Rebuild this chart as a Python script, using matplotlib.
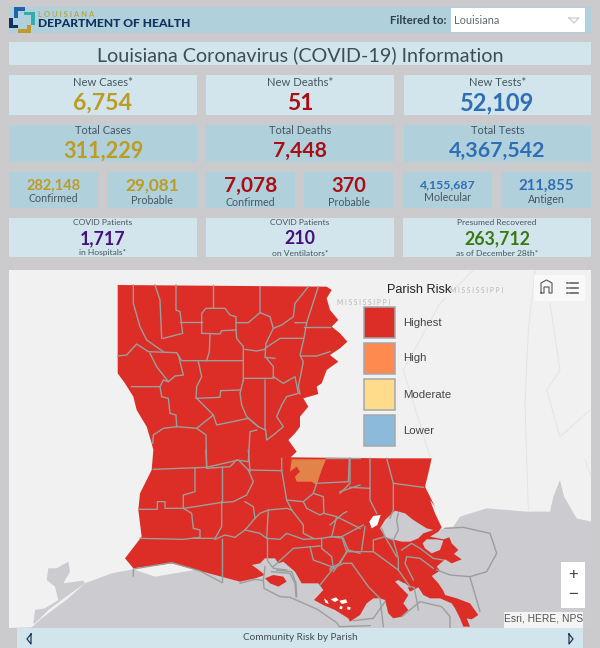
import matplotlib
matplotlib.use("Agg")
import matplotlib.pyplot as plt
from matplotlib.patches import Rectangle, Polygon

plt.rcParams['font.family'] = ['Lato', 'DejaVu Sans']

BG = '#cbcbcd'; LIGHT = '#d2e5ec'; MID = '#b0d0dc'
GOLD = '#bd9c24'; RED = '#ab0d14'; BLUE = '#2f6eb5'; PURPLE = '#44107e'; GREEN = '#3a7a12'
INK = '#47565f'
LAND = '#f1f1f2'; WATER = '#cbcbd0'; PARISH = '#dc2d26'; ORANGE = '#e2844a'; BORDER = '#9a9f9c'

TITLE = 'Louisiana Coronavirus (COVID-19) Information'
FILTER_LABEL = 'Filtered to:'
FILTER_VALUE = 'Louisiana'
MAP_CAPTION = 'Community Risk by Parish'
ATTRIBUTION = 'Esri, HERE, NPS'
LEGEND_TITLE = 'Parish Risk'
LEGEND_LABELS = ['Highest', 'High', 'Moderate', 'Lower']
LEGEND_COLORS = ['#dc2d26', '#ff8a50', '#ffdc8c', '#8cbadb']

ROW1_LABELS = ['New Cases*', 'New Deaths*', 'New Tests*']
ROW1_VALUES = ['6,754', '51', '52,109']
ROW2_LABELS = ['Total Cases', 'Total Deaths', 'Total Tests']
ROW2_VALUES = ['311,229', '7,448', '4,367,542']
ROW3_LABELS = ['Confirmed', 'Probable', 'Confirmed', 'Probable', 'Molecular', 'Antigen']
ROW3_VALUES = ['282,148', '29,081', '7,078', '370', '4,155,687', '211,855']
ROW4_TOP = ['COVID Patients', 'COVID Patients', 'Presumed Recovered']
ROW4_VALUES = ['1,717', '210', '263,712']
ROW4_BOTTOM = ['in Hospitals*', 'on Ventilators*', 'as of December 28th*']

# Map geometry in crop units: (crop_x, crop_y) at 3x.
WEST_NORTH = [(53,45),(680,50),(695,60),(680,85),(690,120),(715,150),(695,170),(720,190),(742,215),
              (720,235),(690,255),(715,275),(680,300),(665,340),(650,350),(655,372),(610,385),(625,410),
              (600,440),(600,470),(585,490),(565,510),(590,545),(572,562)]
NORTH_SHORE = [(140,565),(275,565),(265,610),(255,650),(285,710)]
DELTA = [(300,0),(315,40),(335,82),(325,95),(300,110),(340,118),(358,112),(365,130),(385,150),(372,162),
         (395,178),(365,190),(345,178),(320,200),(330,212),(305,228),(325,250),(340,272),(345,285),(380,295),
         (420,310),(445,345),(425,358),(410,355),(420,380),(400,380),(390,355),(375,325),(365,310),(330,295),
         (300,295),(280,285),(265,262),(240,275),(230,255),(205,240),(195,245),(215,265),(235,285),(220,310),
         (235,330),(215,350),(190,355),(175,340),(165,300),(150,295),(130,295),(110,310),(90,345),(60,365)]
SOUTH_COAST = [(325,235),(285,210),(250,195),(222,180),(250,150),(235,130),(185,130),(165,95),
               (130,65),(115,70),(105,55),(75,55),(60,70),(35,75),(50,85),(75,105),(45,115),(0,125)]
SW_COAST = [(215,340),(100,355),(75,325),(125,260),(115,180),(120,130),(155,60),(160,0)]
WEST_UPPER = [(155,520),(140,470),(110,420),(100,380),(75,340),(53,310)]
ORANGE_PARISH = [(575,28),(678,28),(665,60),(650,105),(635,95),(590,95),(585,80),(600,65),(590,50),(570,65)]
MARSH_ISLAND = [(75,115),(100,105),(130,110),(140,125),(115,140),(90,130)]
PONTCHARTRAIN = [(150,85),(165,60),(195,32),(225,40),(250,60),(290,85),(310,90),(280,100),(265,115),(240,125),
                 (215,125),(175,115),(165,110)]
BORGNE = [(278,130),(290,118),(320,118),(340,122),(330,150),(305,160),(285,145)]
MAUREPAS = [(118,65),(130,48),(152,45),(142,75),(125,85)]
BIRDFOOT_GAP = [(205,245),(225,250),(240,262),(228,262)]
GULF_WEST = [(80,262),(110,235),(190,175),(240,130),(320,100),(385,88),(450,110)]
GALVESTON = [(85,250),(90,210),(120,205),(160,180),(150,140),(125,120),(130,85),(155,85),(190,65),(195,95),
             (175,130),(235,122),(240,130),(190,165),(130,210),(90,250)]
GULF_EAST = [(340,770),(360,740),(440,715),(560,725),(630,725),(640,680),(660,630),(672,680),(710,745),(753,755),
             (753,1134),(0,1134)]
WHITE_SPECKS = [[(272,178),(288,172),(296,180),(284,186)], [(298,182),(318,178),(322,188),(305,192)],
                [(252,175),(262,182),(266,192),(256,188)], [(300,198),(308,200),(306,208),(298,206)],
                [(322,200),(332,202),(330,210),(322,208)]]

Z3_LINES = [
 [(100,45),(100,100),(120,170),(140,210),(190,245)], [(165,45),(180,90),(185,205)],
 [(228,45),(228,120),(240,125),(248,190),(190,205)], [(240,157),(305,157)], [(340,45),(340,112)],
 [(305,190),(305,130),(318,115),(375,115),(390,135),(408,140),(408,180)],
 [(305,190),(360,192),(365,182),(408,180),(410,205),(430,230),(430,330)],
 [(408,158),(445,158),(480,128),(480,50)], [(480,128),(510,140),(520,175),(498,220),(495,262),(525,265)],
 [(520,175),(545,165),(580,140),(585,100),(625,50)], [(585,158),(620,158),(655,50)],
 [(620,158),(612,205),(600,255),(610,275),(595,350),(600,372)], [(612,172),(690,172)],
 [(495,235),(540,205),(610,205)], [(605,258),(650,258),(690,245)],
 [(53,258),(80,255),(110,222),(145,245),(230,248),(245,272),(430,272)],
 [(150,250),(170,290),(205,335),(225,318),(250,315),(235,255)], [(330,195),(328,245),(320,272)],
 [(295,275),(305,320),(290,350),(288,385),(360,382),(362,362),(420,360)],
 [(430,330),(420,370),(425,405),(440,440),(475,470),(495,480),(495,330)],
 [(432,325),(520,325),(520,290),(500,265)], [(435,238),(470,243),(495,238)],
 [(520,320),(550,340),(585,320),(595,370),(560,380),(545,405),(530,440),(550,470),(520,495),(500,510),(497,480)],
 [(95,350),(180,350),(185,380),(205,385),(210,430),(228,435),(230,470),(190,475),(160,495),(158,520)],
 [(180,350),(190,330),(205,335)], [(290,385),(340,435),(350,465),(445,445),(475,470)],
 [(340,435),(290,475),(230,470)], [(290,475),(318,495),(320,595)],
 [(470,480),(450,485),(445,575),(410,570),(390,590),(320,595)],
]
Z4_LINES = [
 [(318,0),(320,52),(160,58)], [(320,52),(415,30),(445,60),(545,62)], [(445,0),(450,65)],
 [(285,55),(285,125),(250,135),(250,175),(195,175),(195,155),(172,155),(172,178),(118,178)],
 [(367,52),(367,155)], [(445,60),(460,95),(440,135),(400,155),(360,158),(285,170),(250,175)],
 [(250,175),(275,190),(280,235),(300,240),(300,262),(250,268),(120,265)],
 [(365,155),(365,230),(345,265),(280,265)], [(365,268),(365,395)],
 [(435,155),(460,170),(465,205),(435,240),(405,262),(375,255),(345,268)],
 [(465,205),(480,190),(505,180),(560,175),(575,180)], [(435,240),(480,250),(500,265),(505,180)],
 [(500,265),(500,330)], [(500,265),(540,268),(560,250),(610,268),(665,265),(695,260),(730,265)],
 [(560,150),(610,155),(640,130),(650,100),(745,95),(748,25)],
 [(545,25),(545,60),(560,150),(575,180),(610,225),(610,250),(640,265)],
 [(640,130),(670,140),(672,190),(710,200),(695,260)], [(610,155),(620,175),(660,195),(670,190)],
 [(710,200),(780,235)], [(720,125),(780,105)], [(665,265),(665,295),(695,320),(700,355),(660,405)],
 [(630,290),(640,330),(695,350)], [(520,350),(580,295),(660,288)], [(745,300),(700,365)],
 [(730,265),(745,300),(780,310)], [(678,25),(780,25)],
 [(530,360),(575,365),(588,400),(590,440)], [(505,335),(520,355),(560,360)],
]
Z2_LINES = [
 [(0,130),(45,118),(70,122),(72,145),(120,170),(150,172),(232,208),(290,248),(298,260),(390,257)],
 [(70,122),(75,80)], [(95,95),(150,100),(165,130),(168,170)],
]
Z5_LINES = [
 [(90,565),(90,690),(110,730)], [(140,565),(160,640),(160,720),(150,745)], [(30,565),(30,640),(0,670)],
 [(30,652),(90,655)], [(160,640),(250,652)],
]
D1_LINES = [
 [(0,110),(35,110),(50,155),(130,155),(130,120),(165,110),(155,85)], [(105,80),(95,150)], [(35,110),(100,75)],
 [(130,155),(205,210),(205,175),(190,120),(175,115)], [(190,120),(205,90),(200,60),(205,40)], [(165,110),(200,170)],
 [(215,150),(245,130),(270,145),(310,175),(340,180)], [(205,210),(240,260),(252,262),(260,300),(265,330)],
 [(230,170),(225,190),(250,240)], [(230,170),(270,175),(310,205)], [(65,190),(115,260),(150,295),(160,380)],
 [(0,210),(40,190),(65,190)], [(50,155),(30,190),(0,205)],
 [(345,85),(400,82),(480,100),(500,160),(470,215),(420,230),(360,225),(320,210)], [(420,232),(440,300),(450,335)],
 [(70,362),(130,355),(165,305)], [(215,350),(270,305),(335,320),(360,350),(360,382)],
 [(0,75),(40,40),(50,35)],
]
STATE_LINES = [
 [(585,0),(565,180),(555,400),(565,720)], [(630,100),(660,300),(620,360),(660,500),(750,420)],
 [(400,0),(300,100),(190,300),(270,560)], [(735,570),(753,620)],
]


def z2(p): return [(240 + x/3, 540 + y/3) for x, y in p]
def z3(p): return [(100 + x/3, 270 + y/3) for x, y in p]
def z4(p): return [(100 + x/3, 450 + y/3) for x, y in p]
def z5(p): return [(340 + x/3, 270 + y/3) for x, y in p]
def d1(p): return [(330 + x/3, 500 + y/3) for x, y in p]
def tx(p): return [(5 + x/3, 540 + y/3) for x, y in p]


fig = plt.figure(figsize=(6, 6.48), dpi=100, facecolor=BG)
ax = fig.add_axes([0, 0, 1, 1])
ax.set_xlim(0, 600); ax.set_ylim(648, 0); ax.axis('off')


def box(x0, y0, x1, y1, c, z=1):
    ax.add_patch(Rectangle((x0, y0), x1-x0, y1-y0, fc=c, ec='none', zorder=z))


def txt(x, y, s, size, color=INK, **kw):
    kw.setdefault('ha', 'center')
    ax.text(x, y, s, fontsize=size, color=color, va='center', zorder=10, **kw)


# header
box(9, 7, 591, 33, MID)
box(451, 8, 585, 32, 'white', 2)
txt(447, 20, FILTER_LABEL, 8.3, '#2f3f4a', ha='right', fontweight='bold')
txt(454, 20.5, FILTER_VALUE, 7.9, '#5f6a70', ha='left')
ax.plot([569, 574, 579, 569], [18, 23, 18, 18], color='#c2c8cc', lw=0.8, zorder=3)
# logo
for x0, y0, x1, y1, c in [(14, 7, 25, 10.5, '#1f63ad'), (14, 7, 17.5, 18, '#1f63ad'),
                          (24, 12, 35, 15, '#35aab0'), (31, 12, 35, 25, '#35aab0'),
                          (9, 18, 13, 28, '#11305f'), (9, 24.5, 18, 28, '#11305f'),
                          (18, 28.5, 31, 32.5, '#c29a2c'), (27, 25, 31, 32.5, '#c29a2c')]:
    box(x0, y0, x1, y1, c, 3)
txt(38.5, 14.5, 'L O U I S I A N A', 5.6, '#b9a54a', ha='left', fontweight='bold')
txt(37.5, 23.5, 'DEPARTMENT OF HEALTH', 8.7, '#10305f', ha='left', fontweight='black')

# title
box(9, 42, 591, 65, LIGHT)
txt(300, 55, TITLE, 14.2, '#3f4c56')

WIDE = [(9, 197), (206, 394), (404, 591)]
COLORS = [GOLD, RED, BLUE]
R1_S = [16.7, 16.5, 17]
for (a, b), lab, val, c, s in zip(WIDE, ROW1_LABELS, ROW1_VALUES, COLORS, R1_S):
    box(a, 75, b, 115, LIGHT)
    txt((a+b)/2, 82, lab, 8.1)
    txt((a+b)/2, 103, val, s, c, fontweight='bold')
R2_S = [15.6, 15.2, 15.4]
for (a, b), lab, val, c, s in zip(WIDE, ROW2_LABELS, ROW2_VALUES, COLORS, R2_S):
    box(a, 125, b, 162, MID)
    txt((a+b)/2, 131, lab, 7.9)
    txt((a+b)/2, 151, val, s, c, fontweight='bold')

NARROW = [(9, 98), (107, 197), (206, 295), (304, 393), (403, 492), (502, 591)]
R3_C = [GOLD, GOLD, RED, RED, BLUE, BLUE]
R3_S = [10.5, 12.4, 15, 14.4, 8.8, 10.7]
R3_VY = [186, 186, 185.5, 185.5, 185, 186]
R3_LY = [199, 200.5, 202, 202, 197.5, 199.5]
for (a, b), lab, val, c, s, vy, ly in zip(NARROW, ROW3_LABELS, ROW3_VALUES, R3_C, R3_S, R3_VY, R3_LY):
    box(a, 172, b, 208, MID)
    txt((a+b)/2, vy, val, s, c, fontweight='bold')
    txt((a+b)/2, ly, lab, 7.7)

R4_C = [PURPLE, PURPLE, GREEN]
for (a, b), t, val, bt, c in zip(WIDE, ROW4_TOP, ROW4_VALUES, ROW4_BOTTOM, R4_C):
    a2 = 403 if a == 404 else a
    box(a2, 218, b, 257, LIGHT)
    txt((a2+b)/2, 222.5, t, 6.1)
    txt((a2+b)/2, 239, val, 12.8, c, fontweight='bold')
    txt((a2+b)/2, 253, bt, 6.1)

# map
mapclip = Rectangle((9, 270), 582, 358, transform=ax.transData)
box(9, 270, 591, 628, LAND)


def poly(pts, c, z, lw=0, ec='none'):
    p = Polygon(pts, fc=c, ec=ec, lw=lw, zorder=z)
    ax.add_patch(p); p.set_clip_path(mapclip)


def line(pts, c, lw, z):
    l, = ax.plot([p[0] for p in pts], [p[1] for p in pts], color=c, lw=lw, zorder=z, solid_joinstyle='round')
    l.set_clip_path(mapclip)


for s in STATE_LINES:
    line(z5(s), '#e4e4e6', 0.7, 2)
poly(tx(GALVESTON), WATER, 2)
poly(tx(GULF_WEST) + z5(GULF_EAST) + [(9, 628)], WATER, 2)
STATE = z3(WEST_NORTH) + z5(NORTH_SHORE) + d1(DELTA) + z2(SOUTH_COAST) + z4(SW_COAST) + z3(WEST_UPPER)
poly(STATE, PARISH, 3)
poly(z4(ORANGE_PARISH), ORANGE, 4)
poly(d1(PONTCHARTRAIN), WATER, 4)
poly(d1(BORGNE), WATER, 4)
poly(d1(MAUREPAS), 'white', 5)
poly(d1(BIRDFOOT_GAP), WATER, 4)
poly(z2(MARSH_ISLAND), PARISH, 4)
for w in WHITE_SPECKS:
    poly(z2(w), 'white', 5)
for lines, f in [(Z3_LINES, z3), (Z4_LINES, z4), (Z5_LINES, z5), (Z2_LINES, z2), (D1_LINES, d1)]:
    for s in lines:
        line(f(s), BORDER, 1.0, 6)
line(z4([(100, 378), (100, 357), (215, 338), (300, 363), (365, 397)]), BORDER, 1.0, 6)

txt(477, 290.5, 'M I S S I S S I P P I', 4.8, '#b6b6b8')
txt(364, 302.5, 'M I S S I S S I P P I', 4.8, '#b6b6b8')

# legend
box(385, 283, 451, 298, LAND, 6)
txt(419, 290, LEGEND_TITLE, 9.2, '#222222', fontfamily='Liberation Sans')
for i, (lab, c) in enumerate(zip(LEGEND_LABELS, LEGEND_COLORS)):
    y0 = [307, 342.5, 379, 415][i]
    ax.add_patch(Rectangle((364, y0), 31, 31, fc=c, ec='#a3a8ab', lw=1.1, zorder=7))
    txt(403, y0+15.5, lab, 8.2, '#444444', ha='left', fontfamily='Liberation Sans')

# map controls
box(534, 275, 585, 301, '#f8f8f8', 7)
ax.plot([541, 541, 546.5, 552, 552, 549, 549, 544, 544, 541],
        [293, 283, 280, 283, 293, 293, 287, 287, 293, 293], color='#555555', lw=0.8, zorder=8)
for yy in [283, 288, 293]:
    ax.plot([570, 578], [yy, yy], color='#555555', lw=1.1, zorder=8)
    ax.plot([566.5, 568], [yy, yy], color='#555555', lw=1.1, zorder=8)
box(561, 562, 585, 608, 'white', 7)
txt(573, 574, '+', 12, '#444444', fontfamily='Liberation Sans')
txt(573, 595, '\u2212', 12, '#444444', fontfamily='Liberation Sans')
box(504, 612, 583, 628, '#f4f4f5', 7)
txt(544, 618.5, ATTRIBUTION, 7.4, '#555555', fontfamily='Liberation Sans')

# caption bar
box(17, 628, 583, 648, LIGHT, 8)
txt(300, 638, MAP_CAPTION, 7.2, '#3f4c56')
ax.plot([31, 27, 31, 31], [634, 639, 644, 634], color='#1d3557', lw=0.9, zorder=9)
ax.plot([569, 573, 569, 569], [634, 639, 644, 634], color='#1d3557', lw=0.9, zorder=9)

fig.savefig('out.png', dpi=100, facecolor=BG)
